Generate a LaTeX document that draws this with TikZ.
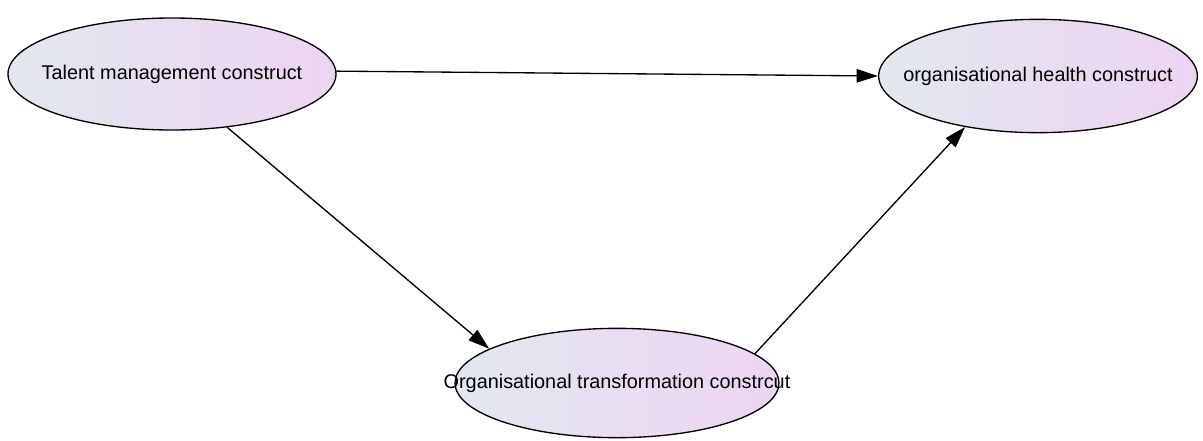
\documentclass[tikz,border=0pt]{standalone}
\usepackage{fontspec}
\setmainfont{Liberation Sans}
\usetikzlibrary{shapes.geometric,arrows.meta}
\definecolor{gleft}{HTML}{E2E8EE}
\definecolor{gright}{HTML}{EDD4F3}
\tikzset{
  construct/.style={ellipse, draw=black, line width=1pt, inner sep=0pt,
    left color=gleft, right color=gright, shading angle=90,
    font=\fontsize{14.9pt}{17pt}\selectfont, text=black},
  link/.style={line width=1pt, -{Triangle[length=16pt,width=10pt]}}
}
\newcommand{\ctext}[1]{\makebox[0pt]{#1}}
\begin{document}
\begin{tikzpicture}[x=0.75pt,y=-0.75pt]
\useasboundingbox (0,0) rectangle (1203,440);
\node[construct, minimum width=246pt, minimum height=84pt] (tal) at (172,74) {\ctext{Talent management construct}};
\node[construct, minimum width=239pt, minimum height=85pt] (hea) at (1038,76) {\ctext{organisational health construct}};
\node[construct, minimum width=243pt, minimum height=82pt] (tra) at (617,383) {\ctext{Organisational transformation constrcut}};
\draw[link] (tal.1) -- (hea.180);
\draw[link] (tal.-44) -- (tra.165);
\draw[link] (tra.12) -- (hea.215);
\end{tikzpicture}
\end{document}
